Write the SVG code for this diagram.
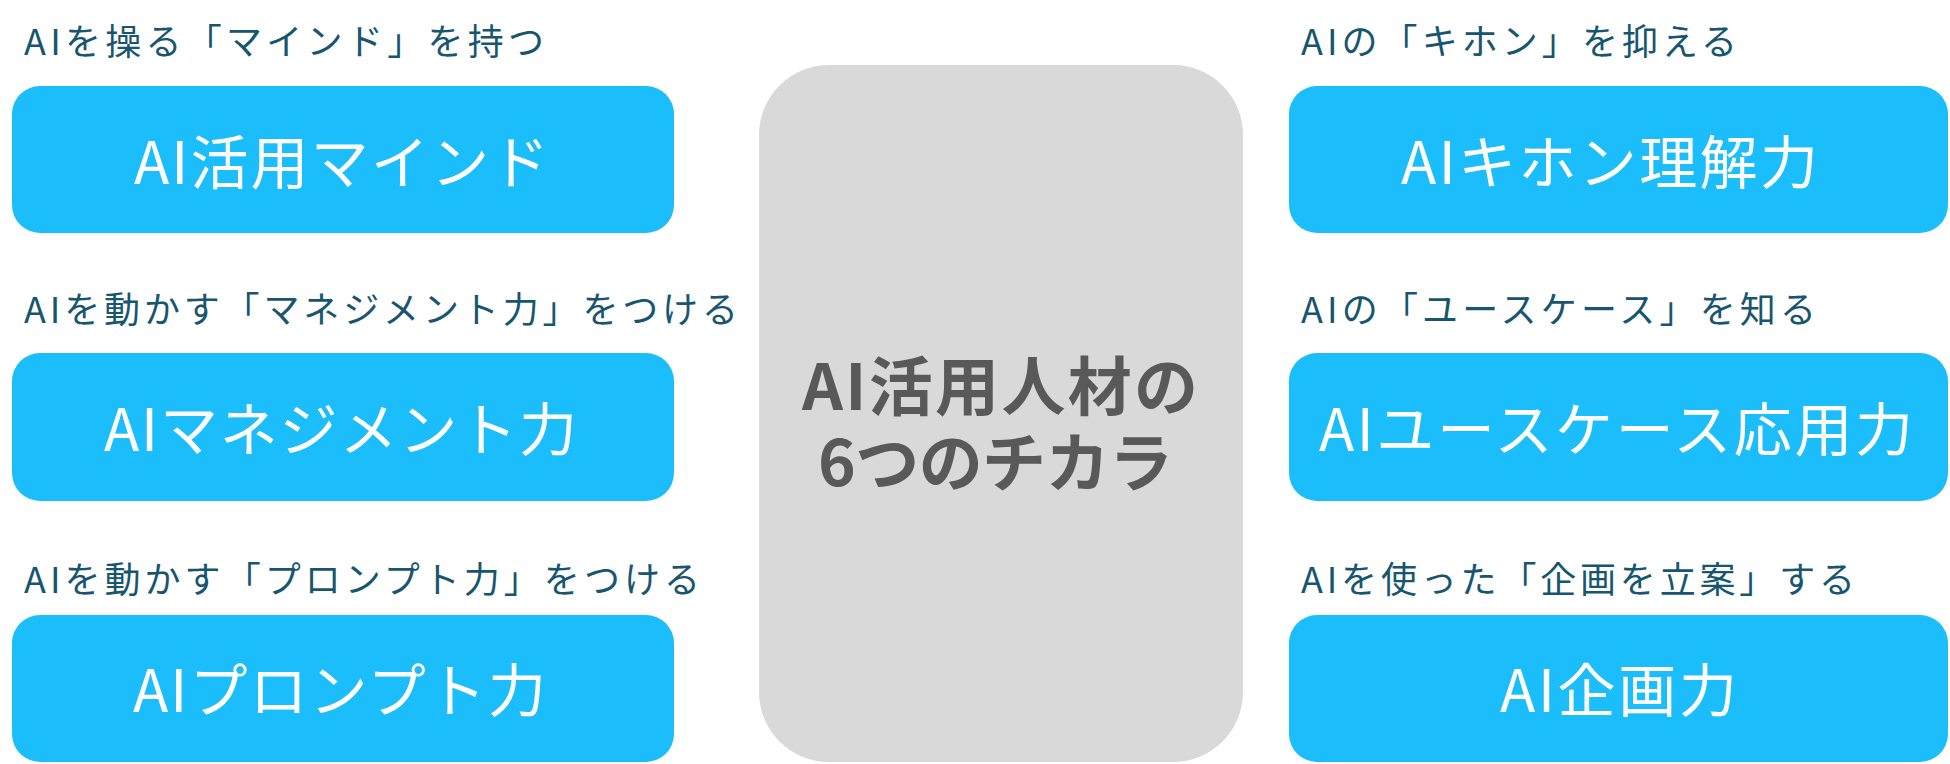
<svg xmlns="http://www.w3.org/2000/svg" width="1950" height="764" viewBox="0 0 1950 764">
  <style>
    .box { fill: #1cbdfb; }
    .center { fill: #d9d9d9; }
    .lbl { font-family: "Noto Sans CJK JP", "Noto Sans", sans-serif; font-size: 36px; fill: #17566e; }
    .btxt { font-family: "Noto Sans CJK JP", "Noto Sans", sans-serif; font-size: 58px; fill: #ffffff; }
    .ctxt { font-family: "Noto Sans CJK JP", "Noto Sans", sans-serif; font-size: 64px; font-weight: bold; fill: #595959; }
  </style>
  <rect width="1950" height="764" fill="#ffffff"/>
  <g id="center">
    <rect class="center" x="759" y="65" width="484" height="697" rx="70" ry="70"/>
    <text class="ctxt"><tspan x="802" y="410" textLength="396" lengthAdjust="spacing">AI活用人材の</tspan><tspan x="818" y="486" textLength="355" lengthAdjust="spacing">6つのチカラ</tspan></text>
  </g>
  <g id="mind">
    <text class="lbl" x="24" y="55" textLength="520" lengthAdjust="spacing">AIを操る「マインド」を持つ</text>
    <rect class="box" x="12" y="86" width="662" height="147" rx="28" ry="28"/>
    <text class="btxt" x="134" y="184" textLength="415" lengthAdjust="spacing">AI活用マインド</text>
  </g>
  <g id="management">
    <text class="lbl" x="24" y="323" textLength="714" lengthAdjust="spacing">AIを動かす「マネジメント力」をつける</text>
    <rect class="box" x="12" y="353" width="662" height="148" rx="28" ry="28"/>
    <text class="btxt" x="104" y="451" textLength="473" lengthAdjust="spacing">AIマネジメント力</text>
  </g>
  <g id="prompt">
    <text class="lbl" x="24" y="593" textLength="676" lengthAdjust="spacing">AIを動かす「プロンプト力」をつける</text>
    <rect class="box" x="12" y="615" width="662" height="147" rx="28" ry="28"/>
    <text class="btxt" x="133" y="712" textLength="413" lengthAdjust="spacing">AIプロンプト力</text>
  </g>
  <g id="basics">
    <text class="lbl" x="1301" y="55" textLength="436" lengthAdjust="spacing">AIの「キホン」を抑える</text>
    <rect class="box" x="1289" y="86" width="659" height="147" rx="28" ry="28"/>
    <text class="btxt" x="1401" y="184" textLength="417" lengthAdjust="spacing">AIキホン理解力</text>
  </g>
  <g id="usecase">
    <text class="lbl" x="1301" y="323" textLength="515" lengthAdjust="spacing">AIの「ユースケース」を知る</text>
    <rect class="box" x="1289" y="353" width="659" height="148" rx="28" ry="28"/>
    <text class="btxt" x="1319" y="451" textLength="594" lengthAdjust="spacing">AIユースケース応用力</text>
  </g>
  <g id="planning">
    <text class="lbl" x="1301" y="593" textLength="554" lengthAdjust="spacing">AIを使った「企画を立案」する</text>
    <rect class="box" x="1289" y="615" width="659" height="147" rx="28" ry="28"/>
    <text class="btxt" x="1500" y="712" textLength="237" lengthAdjust="spacing">AI企画力</text>
  </g>
  <g id="connectors"></g>
</svg>
